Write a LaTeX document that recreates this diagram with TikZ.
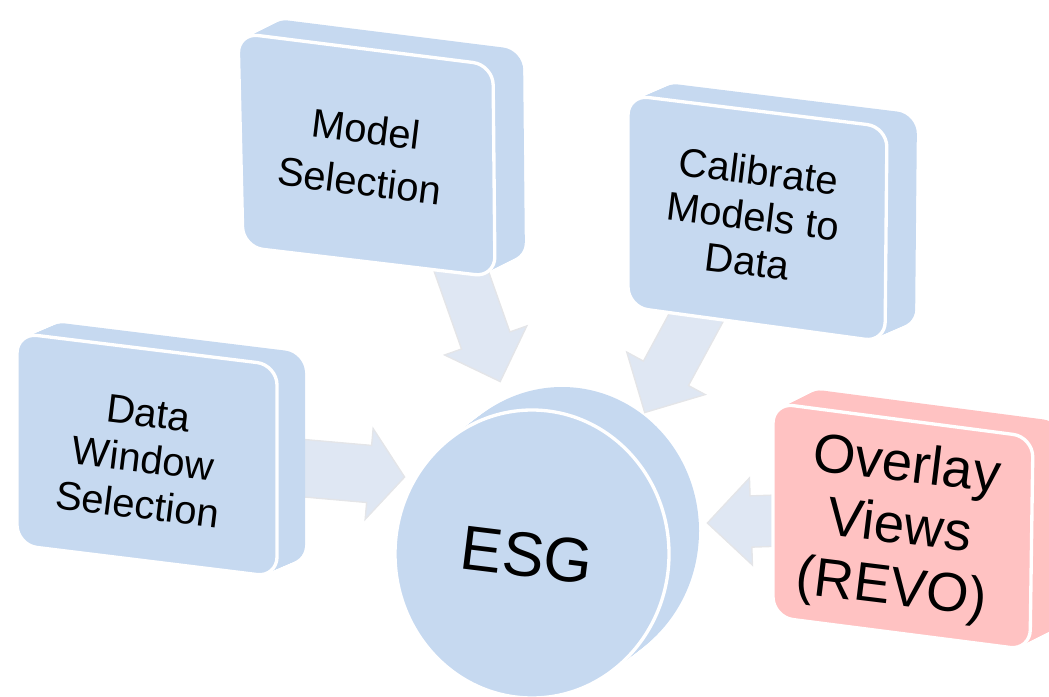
\documentclass[tikz,border=0pt]{standalone}
\usepackage{fontspec}
\setmainfont{Liberation Sans}
\usetikzlibrary{calc,shapes.arrows}

\definecolor{slabblue}{RGB}{198,217,240}
\definecolor{slabpink}{RGB}{255,194,194}
\definecolor{arrowfill}{RGB}{223,231,243}
\definecolor{arrowedge}{RGB}{228,229,232}

% Extruded rounded slab: corners TL, TR, BR, BL of the front face,
% depth offset (dx,dy), fill colour
\newcommand\slab[7]{%
  \foreach \k in {0,...,16}{%
    \fill[#7, rounded corners=15pt, shift={({\k*(#5)/16},{\k*(#6)/16})}]
      ($(#1)!0.5!(#2)$) -- (#2) -- (#3) -- (#4) -- (#1) -- cycle;
  }%
  \filldraw[fill=#7, draw=white, line width=2.5pt, rounded corners=15pt]
    ($(#1)!0.5!(#2)$) -- (#2) -- (#3) -- (#4) -- (#1) -- cycle;
}

% Block arrow laid from one named point to another
\newcommand\blockarrow[4]{%
  \path let \p1=($(#3)-(#2)$), \n1={atan2(\y1,\x1)}, \n2={veclen(\x1,\y1)} in
    node[arrowbody, #4, rotate=\n1, minimum height=\n2, anchor=tail] (#1) at (#2) {};
}

\begin{document}
\begin{tikzpicture}[x=0.75pt, y=-0.75pt,
  arrowbody/.style={shape=single arrow, fill=arrowfill, draw=arrowedge,
    line width=1pt, inner xsep=0pt, inner ysep=18.75pt,
    single arrow head extend=13.5pt},
  label/.style={align=center, rotate=-7, text=black},
]
\useasboundingbox (0,0) rectangle (1049,696);
\clip (0,0) rectangle (1049,696);

% arrow end points
\coordinate (ms-out) at (458,262);
\coordinate (esg-n)  at (500,381);
\coordinate (cm-out) at (710,292);
\coordinate (esg-ne) at (645,412);
\coordinate (dw-out) at (290,467);
\coordinate (esg-w)  at (404,477);
\coordinate (ov-out) at (795,520);
\coordinate (esg-e)  at (708,523);

% arrows into the generator
\blockarrow{a1}{ms-out}{esg-n}{}
\blockarrow{a2}{cm-out}{esg-ne}{single arrow head extend=14.25pt}
\blockarrow{a3}{dw-out}{esg-w}{inner ysep=21pt, single arrow head extend=12.75pt, single arrow tip angle=104}
\blockarrow{a4}{ov-out}{esg-e}{}

% input slabs
\slab{238,33}{493,65}{495,277}{243,247}{30}{-15}{slabblue}
\slab{17,333}{277,365}{277,577}{17,545}{28}{-12}{slabblue}
\slab{628,95}{887,127}{885,342}{628,307}{30}{-13}{slabblue}
\slab{773,403}{1033,437}{1030,650}{773,617}{30}{-15}{slabpink}

% central disc
\foreach \k in {0,...,16}{%
  \fill[slabblue] ({532+\k*30/16},{554-\k*23/16}) ellipse [x radius=137, y radius=144];
}
\filldraw[fill=slabblue, draw=white, line width=2.5pt] (532,554) ellipse [x radius=137, y radius=144];

% labels
\node[label, font=\fontsize{30}{39}\selectfont] (ms) at (363,155) {Model\\Selection};
\node[label, font=\fontsize{30}{34.5}\selectfont] (dw) at (143,459) {Data\\Window\\Selection};
\node[label, font=\fontsize{30}{34}\selectfont] (cm) at (753,216) {Calibrate\\Models to\\Data};
\node[label, font=\fontsize{41}{46.5}\selectfont] (ov) at (899,529) {Overlay\\Views\\(REVO)};
\node[label, font=\fontsize{47}{50}\selectfont] (esg) at (527,555) {ESG};
\end{tikzpicture}
\end{document}
